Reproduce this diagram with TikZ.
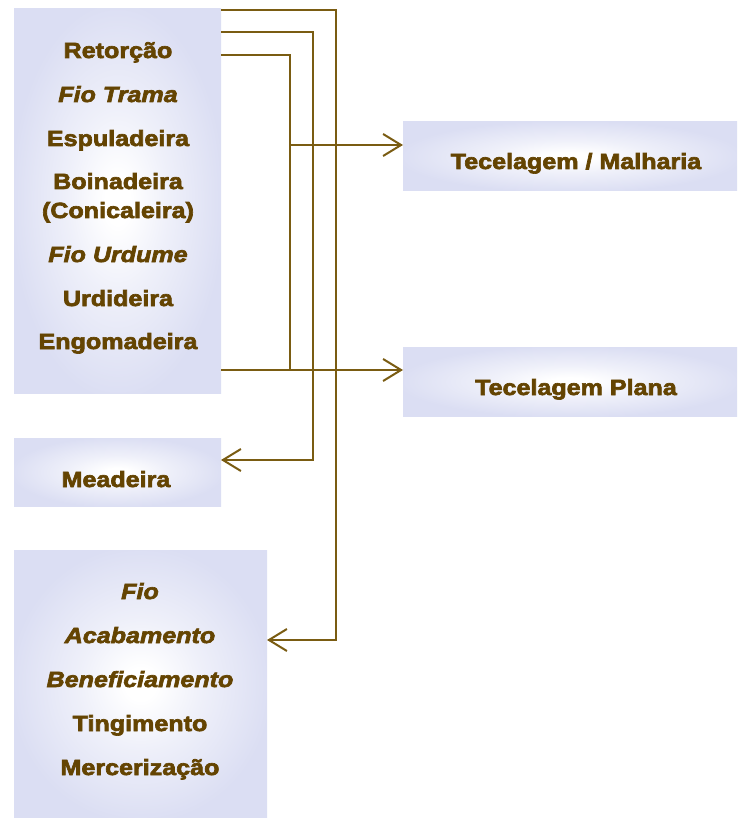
\documentclass[tikz,border=0pt]{standalone}
\usepackage{fontspec}
\usetikzlibrary{arrows.meta}
\newfontfamily\labelfont{Liberation Sans}[FakeStretch=1.14,
  BoldFeatures={FakeBold=3}, BoldItalicFeatures={FakeBold=3}]

\definecolor{lav}{RGB}{219,222,243}
\definecolor{ink}{RGB}{100,68,2}
\definecolor{wire}{RGB}{122,92,18}

% soft white glow in the middle of each panel
\pgfdeclareradialshading{glow}{\pgfpoint{0bp}{0bp}}{%
  color(0bp)=(white); color(3bp)=(white); color(12bp)=(lav!45!white);
  color(26bp)=(lav); color(50bp)=(lav)}

\tikzset{
  panel/.style={shape=rectangle, inner sep=0pt, outer sep=0pt, draw=none,
    shading=glow, anchor=north west},
  lbl/.style={anchor=base, inner sep=0pt, text=ink,
    font=\labelfont\fontsize{22}{26}\selectfont\bfseries},
  ilbl/.style={lbl, font=\labelfont\fontsize{22}{26}\selectfont\bfseries\itshape},
  conn/.style={draw=wire, line width=2pt, line join=miter},
  flow/.style={conn, -{Straight Barb[length=18pt,width=22pt]}}
}

\begin{document}
\begin{tikzpicture}[x=1pt,y=-1pt]
\useasboundingbox (0,0) rectangle (737,818);

% panels
\node[panel, minimum width=207pt, minimum height=384pt] (main) at (14,9) {};
\node[panel, minimum width=334pt, minimum height=69pt]  (tm)   at (403,122) {};
\node[panel, minimum width=334pt, minimum height=69pt]  (tp)   at (403,347) {};
\node[panel, minimum width=207pt, minimum height=68pt]  (mea)  at (14,438) {};
\node[panel, minimum width=253pt, minimum height=268pt] (fio)  at (14,550) {};

% labels of the spinning panel
\node[lbl]  (t1) at (118,58)  {Retorção};
\node[ilbl] (t2) at (118,102) {Fio Trama};
\node[lbl]  (t3) at (118,146) {Espuladeira};
\node[lbl]  (t4) at (118,189) {Boinadeira};
\node[lbl]  (t5) at (118,218) {(Conicaleira)};
\node[ilbl] (t6) at (118,262) {Fio Urdume};
\node[lbl]  (t7) at (118,306) {Urdideira};
\node[lbl]  (t8) at (118,349) {Engomadeira};

\node[lbl] (tmL)  at (576,169) {Tecelagem / Malharia};
\node[lbl] (tpL)  at (576,395) {Tecelagem Plana};
\node[lbl] (meaL) at (116,487) {Meadeira};

\node[ilbl] (f1) at (140,599) {Fio};
\node[ilbl] (f2) at (140,643) {Acabamento};
\node[ilbl] (f3) at (140,687) {Beneficiamento};
\node[lbl]  (f4) at (140,731) {Tingimento};
\node[lbl]  (f5) at (140,775) {Mercerização};

% connector routing points
\coordinate (a0) at (221,10);
\coordinate (a1) at (336,640);
\coordinate (b0) at (221,32);
\coordinate (b1) at (313,460);
\coordinate (c0) at (221,55);
\coordinate (c1) at (290,370);
\coordinate (c2) at (290,145);

% connectors
\draw[flow] (a0) -| (a1) -- (fio.east |- a1);
\draw[flow] (b0) -| (b1) -- (mea.east |- b1);
\draw[conn] (c0) -| (c1);
\draw[flow] (c2) -- (tm.west |- c2);
\draw[flow] (main.east |- c1) -- (tp.west |- c1);
\end{tikzpicture}
\end{document}
